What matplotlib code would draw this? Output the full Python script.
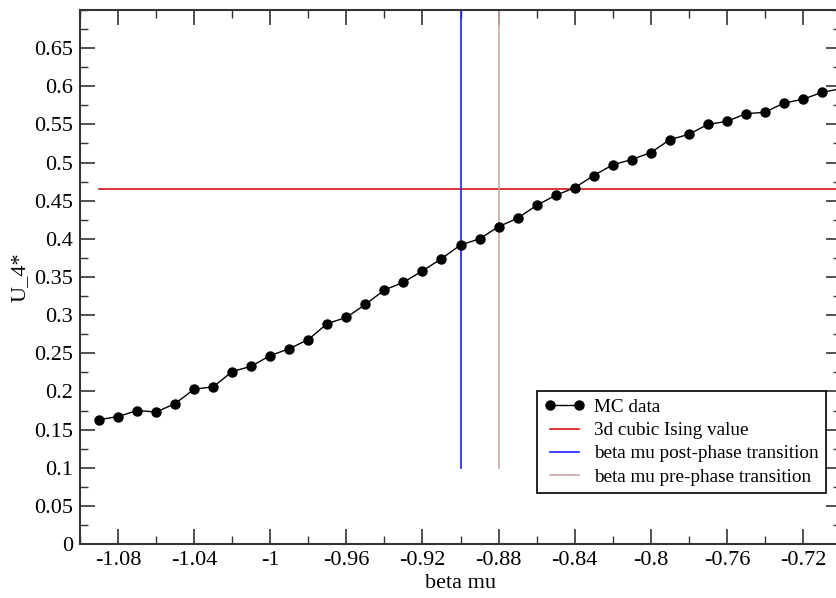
import matplotlib
matplotlib.use("Agg")
import matplotlib.pyplot as plt
from matplotlib.ticker import MultipleLocator, FuncFormatter

plt.rcParams['font.family'] = ['Liberation Serif', 'DejaVu Serif']

beta_mu = [-1.09, -1.08, -1.07, -1.06, -1.05, -1.04, -1.03, -1.02, -1.01, -1.00,
           -0.99, -0.98, -0.97, -0.96, -0.95, -0.94, -0.93, -0.92, -0.91, -0.90,
           -0.89, -0.88, -0.87, -0.86, -0.85, -0.84, -0.83, -0.82, -0.81, -0.80,
           -0.79, -0.78, -0.77, -0.76, -0.75, -0.74, -0.73, -0.72, -0.71, -0.70]
u4 = [0.163, 0.167, 0.175, 0.173, 0.184, 0.203, 0.206, 0.226, 0.233, 0.247,
      0.256, 0.268, 0.289, 0.297, 0.314, 0.333, 0.343, 0.358, 0.374, 0.392,
      0.400, 0.416, 0.427, 0.444, 0.457, 0.467, 0.483, 0.497, 0.504, 0.513,
      0.530, 0.537, 0.550, 0.554, 0.564, 0.566, 0.578, 0.583, 0.592, 0.597]

ising_value = 0.465
ising_x = [-1.09, -0.70]
post_transition = -0.90
pre_transition = -0.88
vline_y = [0.1, 0.7]

fig = plt.figure(figsize=(8.36, 5.98), dpi=100)
ax = fig.add_axes([80/836, 54/598, 761/836, 534/598])

ax.plot(beta_mu, u4, color='black', lw=1.0, marker='o', markersize=6.5, label='MC data', zorder=5)
ax.plot(ising_x, [ising_value, ising_value], color='#d81010', lw=1.2, label='3d cubic Ising value')
ax.plot([post_transition, post_transition], vline_y, color='#2020ff', lw=1.2, label='beta mu post-phase transition')
ax.plot([pre_transition, pre_transition], vline_y, color='#c9a8a6', lw=1.2, label='beta mu pre-phase transition')

ax.set_xlim(-1.10, -0.70)
ax.set_ylim(0, 0.70)
ax.xaxis.set_major_locator(MultipleLocator(0.04))
ax.xaxis.set_minor_locator(MultipleLocator(0.02))
ax.yaxis.set_major_locator(MultipleLocator(0.05))
ax.yaxis.set_minor_locator(MultipleLocator(0.025))
fmt = FuncFormatter(lambda v, p: ('%g' % round(v, 4)) if abs(v) > 1e-9 else '0')
ax.xaxis.set_major_formatter(fmt)
ax.yaxis.set_major_formatter(fmt)
ax.set_xticks([t for t in ax.get_xticks() if -1.095 < t < -0.705])
ax.set_yticks([t for t in ax.get_yticks() if -0.001 < t < 0.68])
ax.tick_params(which='both', direction='in', top=True, right=True, labelsize=16, color='#333333')
ax.tick_params(which='major', length=11, width=1.2, pad=5)
ax.tick_params(which='minor', length=5.5, width=1.0)
for s in ax.spines.values():
    s.set_linewidth(1.5)
    s.set_color('#333333')

ax.set_xlabel('beta mu', fontsize=16, labelpad=3)
ax.set_ylabel('U_4*', fontsize=16, labelpad=3)

leg = ax.legend(loc='upper left', bbox_to_anchor=(537/836, 1 - 391/598),
                bbox_transform=fig.transFigure, fontsize=13.8, frameon=True,
                fancybox=False, framealpha=1, edgecolor='black',
                handlelength=2.1, handletextpad=0.45, borderpad=0.4,
                labelspacing=0.3, numpoints=2, borderaxespad=0)
leg.get_frame().set_linewidth(1.2)

fig.savefig('out.png', dpi=100)
